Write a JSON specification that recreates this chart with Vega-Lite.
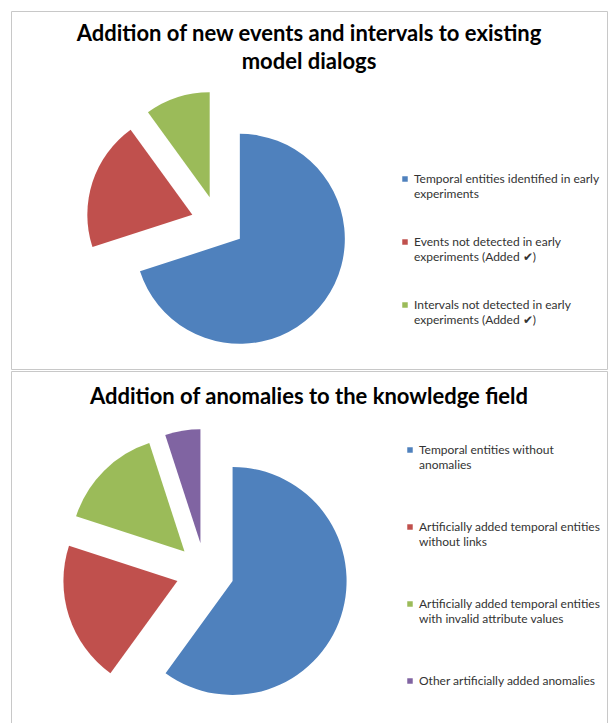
{
  "$schema": "https://vega.github.io/schema/vega-lite/v6.json",
  "background": "white",
  "padding": {"left": 10, "top": 10, "right": 3, "bottom": 0},
  "spacing": 0,
  "config": {
    "view": {"stroke": "#c8c8c8", "strokeWidth": 1},
    "font": "Lato",
    "concat": {"spacing": 0},
    "style": {"guide-label": {"lineHeight": 15}}
  },
  "vconcat": [
    {
      "width": 596,
      "height": 358,
      "view": {"stroke": "#c8c8c8", "strokeWidth": 1},
      "layer": [
        {
          "data": {"values": [
            {"category": "Temporal entities identified in early experiments", "value": 70, "k": 1},
            {"category": "Events not detected in early experiments (Added ✔)", "value": 20, "k": 2},
            {"category": "Intervals not detected in early experiments (Added ✔)", "value": 10, "k": 3}
          ]},
          "transform": [{"stack": "value", "groupby": [], "sort": [{"field": "k"}], "as": ["v0", "v1"]}],
          "mark": {
            "type": "arc", "x": 207, "y": 212, "outerRadius": 105,
            "xOffset": {"expr": "27*sin(PI*(datum.v0+datum.v1)/100)"},
            "yOffset": {"expr": "-27*cos(PI*(datum.v0+datum.v1)/100)"}
          },
          "encoding": {
            "theta": {"field": "v0", "type": "quantitative", "scale": {"domain": [0, 100]}},
            "theta2": {"field": "v1"},
            "color": {
              "field": "category", "type": "nominal",
              "scale": {
                "domain": ["Temporal entities identified in early experiments", "Events not detected in early experiments (Added ✔)", "Intervals not detected in early experiments (Added ✔)"],
                "range": ["#4F81BD", "#C0504D", "#9BBB59"]
              },
              "legend": {
                "orient": "none", "legendX": 388, "legendY": 162, "title": null,
                "symbolType": "square", "symbolSize": 30, "symbolStrokeWidth": 0,
                "labelFont": "Lato", "labelFontSize": 12, "labelColor": "#333", "labelLimit": 240, "labelOffset": 3,
                "rowPadding": 36, "padding": 0,
                "labelExpr": "datum.label == 'Temporal entities identified in early experiments' ? ['Temporal entities identified in early', 'experiments'] : datum.label == 'Events not detected in early experiments (Added ✔)' ? ['Events not detected in early', 'experiments (Added ✔)'] : datum.label == 'Intervals not detected in early experiments (Added ✔)' ? ['Intervals not detected in early', 'experiments (Added ✔)'] : datum.label"
              }
            }
          }
        },
        {
          "data": {"values": [{}]},
          "mark": {
            "type": "text",
            "text": ["Addition of new events and intervals to existing", "model dialogs"],
            "x": {"expr": "width/2"}, "y": 30, "align": "center", "baseline": "alphabetic",
            "font": "Lato", "fontSize": 22, "fontWeight": "bold", "color": "black", "lineHeight": 28
          },
          "encoding": {}
        }
      ]
    },
    {
      "width": 596,
      "height": 354,
      "view": {"stroke": "#c8c8c8", "strokeWidth": 1},
      "layer": [
        {
          "data": {"values": [
            {"category": "Temporal entities without anomalies", "value": 60, "k": 1},
            {"category": "Artificially added temporal entities without links", "value": 20, "k": 2},
            {"category": "Artificially added temporal entities with invalid attribute values", "value": 15, "k": 3},
            {"category": "Other artificially added anomalies", "value": 5, "k": 4}
          ]},
          "transform": [{"stack": "value", "groupby": [], "sort": [{"field": "k"}], "as": ["v0", "v1"]}],
          "mark": {
            "type": "arc", "x": 194, "y": 201, "outerRadius": 114,
            "xOffset": {"expr": "29*sin(PI*(datum.v0+datum.v1)/100)"},
            "yOffset": {"expr": "-29*cos(PI*(datum.v0+datum.v1)/100)"}
          },
          "encoding": {
            "theta": {"field": "v0", "type": "quantitative", "scale": {"domain": [0, 100]}},
            "theta2": {"field": "v1"},
            "color": {
              "field": "category", "type": "nominal",
              "scale": {
                "domain": ["Temporal entities without anomalies", "Artificially added temporal entities without links", "Artificially added temporal entities with invalid attribute values", "Other artificially added anomalies"],
                "range": ["#4F81BD", "#C0504D", "#9BBB59", "#8064A2"]
              },
              "legend": {
                "orient": "none", "legendX": 393, "legendY": 73, "title": null,
                "symbolType": "square", "symbolSize": 30, "symbolStrokeWidth": 0,
                "labelFont": "Lato", "labelFontSize": 12, "labelColor": "#333", "labelLimit": 240, "labelOffset": 3,
                "rowPadding": 50, "padding": 0,
                "labelExpr": "datum.label == 'Temporal entities without anomalies' ? ['Temporal entities without', 'anomalies'] : datum.label == 'Artificially added temporal entities without links' ? ['Artificially added temporal entities', 'without links'] : datum.label == 'Artificially added temporal entities with invalid attribute values' ? ['Artificially added temporal entities', 'with invalid attribute values'] : datum.label"
              }
            }
          }
        },
        {
          "data": {"values": [{}]},
          "mark": {
            "type": "text",
            "text": "Addition of anomalies to the knowledge field",
            "x": {"expr": "width/2"}, "y": 33, "align": "center", "baseline": "alphabetic",
            "font": "Lato", "fontSize": 22, "fontWeight": "bold", "color": "black"
          },
          "encoding": {}
        }
      ]
    }
  ],
  "resolve": {"scale": {"color": "independent", "theta": "independent"}, "legend": {"color": "independent"}}
}
